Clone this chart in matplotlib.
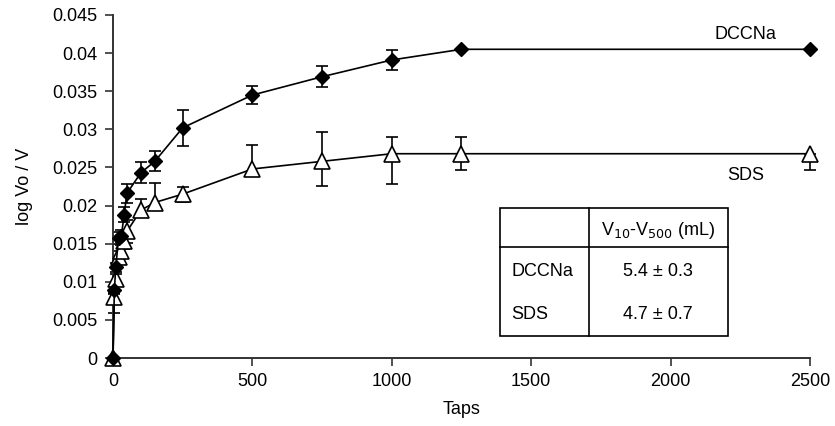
import matplotlib
matplotlib.use("Agg")
from matplotlib import pyplot as plt
from matplotlib.patches import Rectangle

plt.rcParams["font.family"] = ["Liberation Sans", "DejaVu Sans"]
plt.rcParams["font.size"] = 13

# Données
taps = [0, 5, 10, 20, 30, 40, 50, 100, 150, 250, 500, 750, 1000, 1250, 2500]

dccna = [0, 0.0089, 0.0119, 0.0157, 0.0160, 0.0188, 0.0216, 0.0243, 0.0258,
         0.0302, 0.0345, 0.0369, 0.0391, 0.0405, 0.0405]
dccna_err = [0, 0.0005, 0.0006, 0.0008, 0.0008, 0.0010, 0.0012, 0.0014, 0.0013,
             0.0024, 0.0012, 0.0014, 0.0013, 0, 0]

sds = [0, 0.0080, 0.0104, 0.0132, 0.0140, 0.0153, 0.0166, 0.0194, 0.0204,
       0.0215, 0.0248, 0.0258, 0.0268, 0.0268, 0.0268]
sds_err_bas = [0, 0.0021, 0.0006, 0.0008, 0.0008, 0.0010, 0.0015, 0.0005, 0.0005,
               0.0010, 0.0006, 0.0032, 0.0040, 0.0022, 0.0022]
sds_err_haut = [0, 0.0005, 0.0006, 0.0008, 0.0008, 0.0010, 0.0015, 0.0015, 0.0025,
                0.0010, 0.0031, 0.0038, 0.0022, 0.0022, 0]

y_ticks = [0, 0.005, 0.01, 0.015, 0.02, 0.025, 0.03, 0.035, 0.04, 0.045]
x_ticks = [0, 500, 1000, 1500, 2000, 2500]

# Tableau inséré
tab_entete = "V$_{10}$-V$_{500}$ (mL)"
tab_noms = ["DCCNa", "SDS"]
tab_valeurs = ["5.4 \u00b1 0.3", "4.7 \u00b1 0.7"]

fig = plt.figure(figsize=(8.35, 4.26), dpi=100)
ax = fig.add_axes([0.1353, 0.1596, 0.8347, 0.8052])

# barres d'erreur
ax.errorbar(taps, dccna, yerr=dccna_err, fmt="none", ecolor="black",
            elinewidth=1.2, capsize=4.3, capthick=1.2, zorder=2, clip_on=False)
ax.errorbar(taps, sds, yerr=[sds_err_bas, sds_err_haut], fmt="none", ecolor="black",
            elinewidth=1.2, capsize=4.3, capthick=1.2, zorder=2, clip_on=False)

# courbes
ax.plot(taps, sds, color="black", lw=1.2, marker="^", markersize=12,
        markerfacecolor="white", markeredgecolor="black", markeredgewidth=1.2,
        zorder=3, clip_on=False)
ax.plot(taps, dccna, color="black", lw=1.2, marker="D", markersize=7,
        markerfacecolor="black", markeredgecolor="black", zorder=4, clip_on=False)

ax.text(2270, 0.0425, "DCCNa", ha="center", va="center")
ax.text(2270, 0.0240, "SDS", ha="center", va="center")

ax.set_xlim(0, 2500)
ax.set_ylim(0, 0.045)
ax.set_xticks(x_ticks)
ax.set_yticks(y_ticks)
ax.set_yticklabels(["%g" % v for v in y_ticks])
ax.set_xlabel("Taps", labelpad=8)
ax.set_ylabel("log Vo / V", labelpad=14)

for cote in ["top", "right"]:
    ax.spines[cote].set_visible(False)
for cote in ["left", "bottom"]:
    ax.spines[cote].set_color("#333333")
    ax.spines[cote].set_linewidth(1.4)
ax.tick_params(direction="out", length=6, width=1.2, color="#333333", pad=5)

# tableau
t = ax.transAxes
x0, x1, x2 = 0.5552, 0.6826, 0.8819
y0, y1, y2 = 0.0641, 0.3236, 0.4373
ax.add_patch(Rectangle((x0, y0), x2 - x0, y2 - y0, transform=t, fill=True,
                       facecolor="white", edgecolor="black", lw=1.2, zorder=5))
ax.plot([x1, x1], [y0, y2], transform=t, color="black", lw=1.2, zorder=6)
ax.plot([x0, x2], [y1, y1], transform=t, color="black", lw=1.2, zorder=6)
ax.text((x1 + x2) / 2, 0.373, tab_entete, transform=t, ha="center", va="center", zorder=7)
for i, (nom, val) in enumerate(zip(tab_noms, tab_valeurs)):
    yy = [0.2536, 0.1254][i]
    ax.text(x0 + 0.0165, yy, nom, transform=t, ha="left", va="center", zorder=7)
    ax.text((x1 + x2) / 2, yy, val, transform=t, ha="center", va="center", zorder=7)

fig.savefig("out.png", dpi=100)
